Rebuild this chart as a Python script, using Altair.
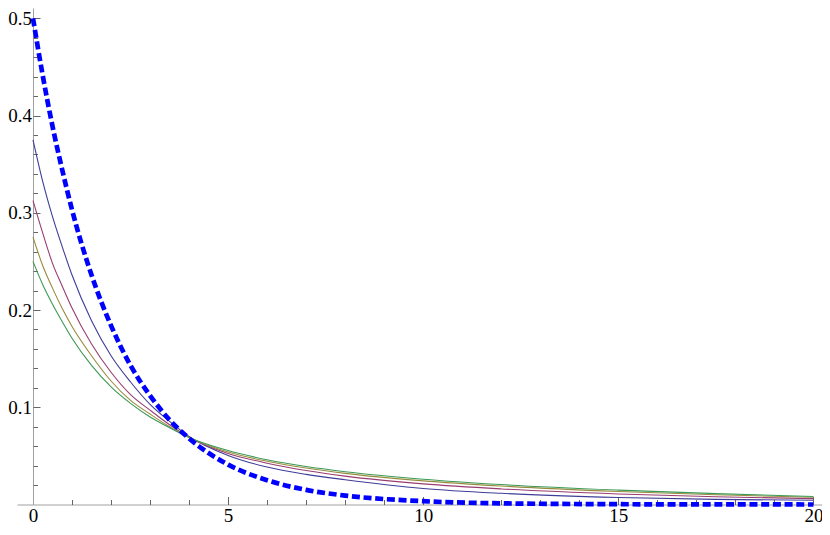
import altair as alt
import pandas as pd

# ---- data ----
x_vals = [0, 0.25, 0.5, 0.75, 1, 1.5, 2, 2.5, 3, 3.5, 4, 5, 6, 7, 8, 10, 12, 15, 17.5, 20]

series_names = ["c1", "c2", "c3", "c4"]
series_colors = ["#3f3d99", "#993d71", "#998b3d", "#3d9956"]

c1 = [0.375, 0.332, 0.296, 0.265, 0.236, 0.189, 0.153, 0.126, 0.103, 0.0855, 0.0700,
      0.0505, 0.0385, 0.0310, 0.0255, 0.0165, 0.0115, 0.0072, 0.0053, 0.0043]
c2 = [0.3125, 0.279, 0.248, 0.2245, 0.202, 0.165, 0.136, 0.113, 0.097, 0.082, 0.0692,
      0.0525, 0.0425, 0.0350, 0.0292, 0.0212, 0.0160, 0.0108, 0.0080, 0.0060]
c3 = [0.275, 0.2455, 0.2225, 0.2015, 0.183, 0.153, 0.127, 0.107, 0.093, 0.080, 0.0690,
      0.0540, 0.0445, 0.0375, 0.0320, 0.0243, 0.0190, 0.0133, 0.0100, 0.0075]
c4 = [0.250, 0.226, 0.206, 0.188, 0.171, 0.143, 0.121, 0.104, 0.090, 0.079, 0.0690,
      0.0555, 0.0460, 0.0390, 0.0337, 0.0260, 0.0205, 0.0148, 0.0112, 0.0082]
dashed_vals = [0.5, 0.441, 0.389, 0.344, 0.303, 0.236, 0.184, 0.143, 0.112, 0.087, 0.068,
               0.041, 0.025, 0.015, 0.0092, 0.0034, 0.0012, 0.0003, 0.0001, 0.00002]

x_major = [0, 5, 10, 15, 20]
x_ticks = list(range(0, 21))
y_major = [0.1, 0.2, 0.3, 0.4, 0.5]
y_ticks = [round(0.02 * i, 2) for i in range(1, 26)]

rows = []
for name, ys in zip(series_names, [c1, c2, c3, c4]):
    for x, y in zip(x_vals, ys):
        rows.append({"x": x, "y": y, "series": name})
solid_df = pd.DataFrame(rows)
dashed_df = pd.DataFrame({"x": x_vals, "y": dashed_vals})

W = 805
H = 496.5
FONT = "Liberation Serif"

x_scale = alt.Scale(domain=[-0.41, 20.22], nice=False, zero=False)
y_scale = alt.Scale(domain=[0, 0.5106], nice=False, zero=False)

x_label_axis = alt.Axis(
    orient="bottom", values=x_major, format="d", title=None, grid=False,
    tickSize=0, labelPadding=2, labelFont=FONT, labelFontSize=19, labelColor="black",
    labelFlush=False, labelOverlap=False,
    domainColor="#a0a0a0", domainWidth=1,
)
y_label_axis = alt.Axis(
    orient="left", values=y_major, format=".1f", title=None, grid=False, offset=-16,
    tickSize=0, labelPadding=1.5, labelFont=FONT, labelFontSize=19, labelColor="black",
    labelFlush=False, labelOverlap=False,
    domainColor="#a0a0a0", domainWidth=1,
)
x_tick_axis = alt.Axis(
    orient="top", offset=-H, values=x_ticks, labels=False, domain=False, title=None, grid=False,
    tickSize={"condition": {"test": "datum.value % 5 === 0", "value": 8}, "value": 5},
    tickColor="#666666", tickWidth=1,
)
y_tick_axis = alt.Axis(
    orient="right", offset=-(W - 16), values=y_ticks, labels=False, domain=False, title=None,
    grid=False,
    tickSize={"condition": {"test": "abs(datum.value*10 - round(datum.value*10)) < 1e-6",
                            "value": 7}, "value": 4.5},
    tickColor="#666666", tickWidth=1,
)

solid = alt.Chart(solid_df).mark_line(strokeWidth=1.1, interpolate="monotone").encode(
    x=alt.X("x:Q", scale=x_scale, axis=x_label_axis),
    y=alt.Y("y:Q", scale=y_scale, axis=y_label_axis),
    color=alt.Color("series:N", scale=alt.Scale(domain=series_names, range=series_colors),
                    legend=None),
)

dashed = alt.Chart(dashed_df).mark_line(
    color="#0000ff", strokeWidth=4.7, strokeDash=[8, 3.7], interpolate="monotone"
).encode(
    x=alt.X("x:Q", scale=x_scale, axis=x_tick_axis),
    y=alt.Y("y:Q", scale=y_scale, axis=y_tick_axis),
)

chart = (
    alt.layer(solid, dashed)
    .resolve_axis(x="independent", y="independent")
    .properties(
        width=W, height=H,
        padding={"left": 9, "top": 0, "right": 0, "bottom": 20},
        autosize=alt.AutoSizeParams(type="none"),
        background="white",
    )
    .configure_view(stroke=None)
)

chart.save("out.html", embed_options={"renderer": "svg", "actions": False})
